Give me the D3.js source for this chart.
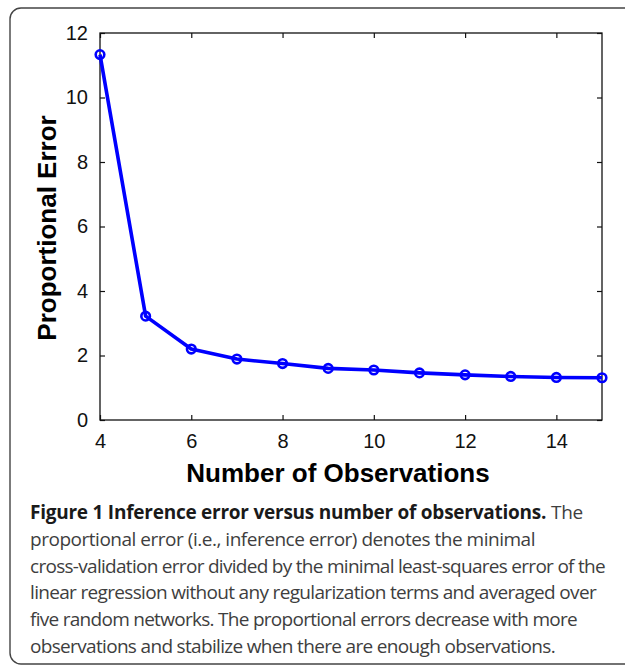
<!DOCTYPE html>
<html>
<head>
<meta charset="utf-8">
<script src="https://cdn.jsdelivr.net/npm/d3@7"></script>
<style>
  html, body { margin: 0; padding: 0; background: #fff; }
  svg { display: block; }
</style>
</head>
<body>
<script>
// ---- data ----
const observations = [4, 5, 6, 7, 8, 9, 10, 11, 12, 13, 14, 15];
const proportionalError = [11.33, 3.22, 2.20, 1.89, 1.75, 1.60, 1.55, 1.46, 1.40, 1.35, 1.32, 1.31];
const xTicks = [4, 6, 8, 10, 12, 14];
const yTicks = [0, 2, 4, 6, 8, 10, 12];
const xLabel = "Number of Observations";
const yLabel = "Proportional Error";
const captionBold = "Figure 1 Inference error versus number of observations.";
const captionLines = [
  " The",
  "proportional error (i.e., inference error) denotes the minimal",
  "cross-validation error divided by the minimal least-squares error of the",
  "linear regression without any regularization terms and averaged over",
  "five random networks. The proportional errors decrease with more",
  "observations and stabilize when there are enough observations."
];
const captionWidths = [553, 505, 575, 566, 547, 525];

// ---- layout ----
const W = 625, H = 666;
const plot = { left: 100, right: 602, top: 33, bottom: 420 };

const svg = d3.select("body").append("svg").attr("width", W).attr("height", H);

// outer frame
svg.append("rect")
  .attr("x", 10).attr("y", 8).attr("width", 640).attr("height", 656)
  .attr("rx", 11).attr("ry", 11)
  .attr("fill", "none").attr("stroke", "#444").attr("stroke-width", 1.4);

const x = d3.scaleLinear().domain([4, 15]).range([plot.left, plot.right]);
const y = d3.scaleLinear().domain([0, 12]).range([plot.bottom, plot.top]);

const g = svg.append("g");
const tickLen = 5;
const axisFont = "'Liberation Sans', Arial, Helvetica, sans-serif";

const xAxisB = d3.axisBottom(x).tickValues(xTicks).tickSizeInner(-tickLen).tickSizeOuter(0).tickPadding(14);
const gxb = g.append("g").attr("transform", `translate(0,${plot.bottom})`).call(xAxisB);
const xAxisT = d3.axisTop(x).tickValues(xTicks).tickSizeInner(-tickLen).tickSizeOuter(0).tickFormat("");
const gxt = g.append("g").attr("transform", `translate(0,${plot.top})`).call(xAxisT);
const yAxisL = d3.axisLeft(y).tickValues(yTicks).tickSizeInner(-tickLen).tickSizeOuter(0).tickPadding(12);
const gyl = g.append("g").attr("transform", `translate(${plot.left},0)`).call(yAxisL);
const yAxisR = d3.axisRight(y).tickValues(yTicks).tickSizeInner(-tickLen).tickSizeOuter(0).tickFormat("");
const gyr = g.append("g").attr("transform", `translate(${plot.right},0)`).call(yAxisR);

[gxb, gxt, gyl, gyr].forEach(a => {
  a.select(".domain").remove();
  a.selectAll(".tick line").attr("stroke", "#111").attr("stroke-width", 1.2);
  a.selectAll("text").attr("font-family", axisFont).attr("font-size", 20).attr("fill", "#111");
});
gxb.selectAll("text").attr("dy", "0.71em");

// box
g.append("rect")
  .attr("x", plot.left).attr("y", plot.top)
  .attr("width", plot.right - plot.left).attr("height", plot.bottom - plot.top)
  .attr("fill", "none").attr("stroke", "#111").attr("stroke-width", 1.3);

// line
const line = d3.line().x((d, i) => x(observations[i])).y(d => y(d));
g.append("path")
  .datum(proportionalError)
  .attr("d", line)
  .attr("fill", "none").attr("stroke", "#0000ff").attr("stroke-width", 3.6)
  .attr("stroke-linejoin", "round");

g.selectAll("circle.pt")
  .data(proportionalError)
  .join("circle")
  .attr("class", "pt")
  .attr("cx", (d, i) => x(observations[i]))
  .attr("cy", d => y(d))
  .attr("r", 4.3)
  .attr("fill", "none").attr("stroke", "#0000ff").attr("stroke-width", 2.6);

// axis labels
svg.append("text")
  .attr("x", 338).attr("y", 482)
  .attr("text-anchor", "middle")
  .attr("font-family", axisFont).attr("font-weight", "bold").attr("font-size", 26)
  .attr("fill", "#000")
  .text(xLabel);

svg.append("text")
  .attr("transform", "translate(56,228) rotate(-90)")
  .attr("text-anchor", "middle")
  .attr("font-family", axisFont).attr("font-weight", "bold").attr("font-size", 26)
  .attr("fill", "#000")
  .text(yLabel);

// caption: fit each line to its measured width with letter-spacing
const capFont = "'Open Sans', 'Noto Sans', sans-serif";
const capX = 30, capY0 = 519, capDy = 26.8;
captionLines.forEach((ln, i) => {
  const t = svg.append("text")
    .attr("x", capX).attr("y", capY0 + i * capDy)
    .attr("font-family", capFont).attr("font-size", 19)
    .attr("fill", "#3e3e3e");
  let nChars;
  if (i === 0) {
    t.append("tspan").attr("font-weight", "bold").attr("fill", "#1a1a1a").text(captionBold);
    t.append("tspan").text(ln);
    nChars = (captionBold + ln).length;
  } else {
    t.text(ln);
    nChars = ln.length;
  }
  const natural = t.node().getComputedTextLength();
  const ls = (captionWidths[i] - natural) / nChars;
  t.attr("letter-spacing", ls.toFixed(3));
});
</script>
</body>
</html>
